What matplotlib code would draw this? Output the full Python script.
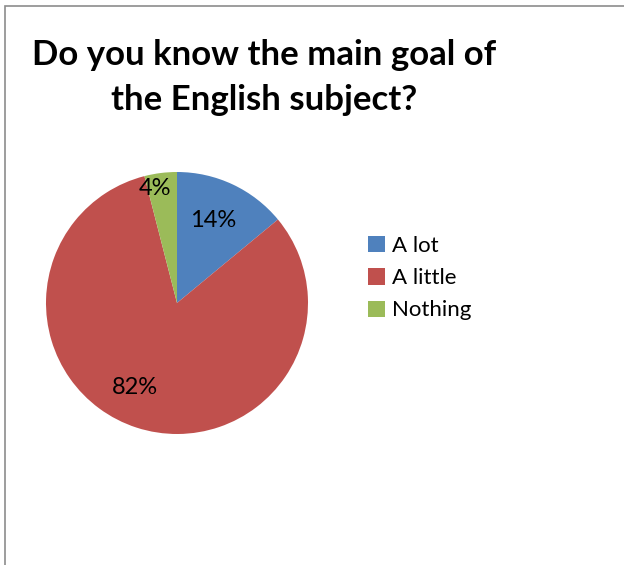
import numpy as np
import matplotlib.pyplot as plt
from matplotlib.patches import Rectangle

# Survey answers
categories = ['A lot', 'A little', 'Nothing']
percents = [14, 82, 4]
colors = ['#4F81BD', '#C0504D', '#9BBB59']
# percent label placement: radius fraction and angle nudge (degrees)
label_dist = [0.69, 0.72, 0.89]
label_turn = [1.7, -8.6, 3.6]

plt.rcParams['font.family'] = ['Lato', 'DejaVu Sans']

fig = plt.figure(figsize=(6.24, 5.65), dpi=100)
W, H = 624, 565

# chart frame (gray border running off the right and bottom)
fig.patches.append(Rectangle((5 / W, -0.05), 1.2, (565 - 6) / H + 0.05,
                             transform=fig.transFigure, fill=False,
                             edgecolor='#8c8c8c', linewidth=1.2))

fig.text(264 / W, 1 - 55 / H, 'Do you know the main goal of',
         ha='center', va='center', fontsize=25, fontweight='bold')
fig.text(264 / W, 1 - 100 / H, 'the English subject?',
         ha='center', va='center', fontsize=25, fontweight='bold')

cx, cy, r = 177, 303, 131
ax = fig.add_axes([(cx - r) / W, (H - cy - r) / H, 2 * r / W, 2 * r / H])
wedges, texts = ax.pie(percents, colors=colors, startangle=90,
                       counterclock=False, radius=1,
                       wedgeprops=dict(linewidth=0))
ax.set_xlim(-1, 1)
ax.set_ylim(-1, 1)
ax.set_aspect('equal')
ax.axis('off')

for w, p, d, t in zip(wedges, percents, label_dist, label_turn):
    mid = np.deg2rad((w.theta1 + w.theta2) / 2 + t)
    ax.text(d * np.cos(mid), d * np.sin(mid), f'{p}%',
            ha='center', va='center', fontsize=17)

leg = fig.legend(wedges, categories, loc='upper left',
                 bbox_to_anchor=(348 / W, 1 - 216 / H), frameon=False,
                 fontsize=16, handlelength=0.75, handleheight=0.75,
                 handletextpad=0.35, labelspacing=0.55)

fig.savefig('out.png', dpi=100)
